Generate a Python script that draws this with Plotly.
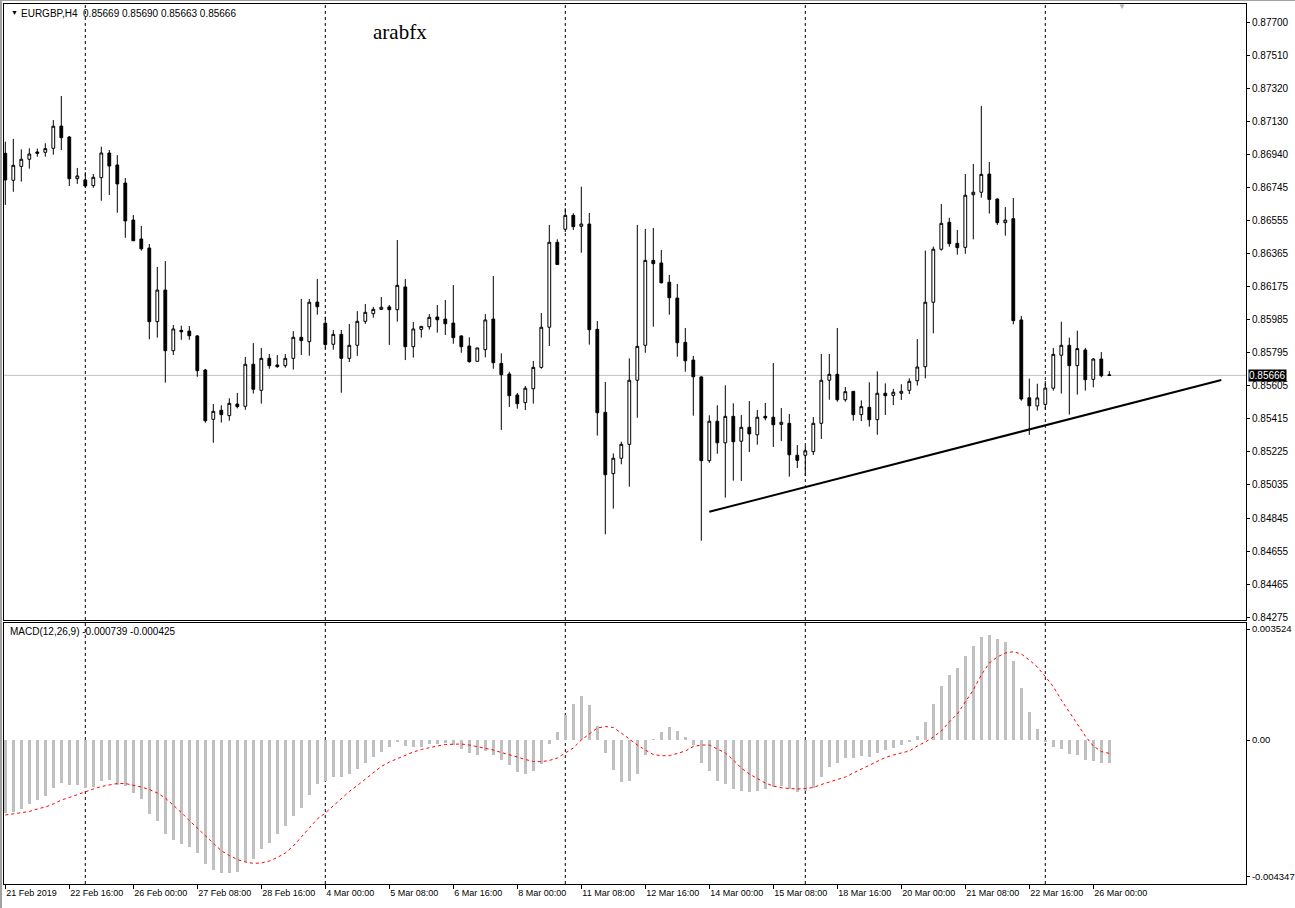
import plotly.graph_objects as go

# ---------------- data (EURGBP H4) ----------------
opens = [
    0.86944, 0.86789, 0.86869, 0.86910, 0.86952, 0.86950, 0.86973, 0.87101, 0.87038, 0.86798,
    0.86791, 0.86758, 0.86804, 0.86946, 0.86877, 0.86773, 0.86560, 0.86451, 0.86399, 0.85975,
    0.86157, 0.85808, 0.85925, 0.85921, 0.85893, 0.85697, 0.85413, 0.85465, 0.85434, 0.85501,
    0.85488, 0.85730, 0.85580, 0.85764, 0.85726, 0.85722, 0.85764, 0.85885, 0.85860, 0.86088,
    0.85966, 0.85845, 0.85902, 0.85764, 0.85839, 0.85977, 0.86021, 0.86046, 0.86060, 0.86044,
    0.86175, 0.85831, 0.85931, 0.85946, 0.86002, 0.85990, 0.85967, 0.85893, 0.85835, 0.85747,
    0.85814, 0.85990, 0.85735, 0.85674, 0.85553, 0.85509, 0.85589, 0.85712, 0.85943, 0.86432,
    0.86507, 0.86587, 0.86524, 0.86537, 0.85931, 0.85453, 0.85100, 0.85189, 0.85269, 0.85638,
    0.85839, 0.86328, 0.86313, 0.86202, 0.86111, 0.85856, 0.85754, 0.85657, 0.85175, 0.85402,
    0.85278, 0.85430, 0.85287, 0.85367, 0.85324, 0.85430, 0.85425, 0.85384, 0.85390, 0.85206,
    0.85206, 0.85227, 0.85390, 0.85638, 0.85672, 0.85526, 0.85574, 0.85440, 0.85482, 0.85411,
    0.85563, 0.85551, 0.85563, 0.85580, 0.85635, 0.85716, 0.86087, 0.86392, 0.86547, 0.86426,
    0.86403, 0.86706, 0.86720, 0.86825, 0.86681, 0.86545, 0.86568, 0.85985, 0.85537, 0.85490,
    0.85499, 0.85592, 0.85782, 0.85839, 0.85722, 0.85812, 0.85643, 0.85760, 0.85669,
]
highs = [
    0.87011, 0.87027, 0.86967, 0.86973, 0.86971, 0.87002, 0.87136, 0.87274, 0.87044, 0.86860,
    0.86835, 0.86825, 0.86982, 0.86963, 0.86934, 0.86802, 0.86589, 0.86526, 0.86422, 0.86290,
    0.86324, 0.85956, 0.85952, 0.85950, 0.85898, 0.85703, 0.85501, 0.85494, 0.85534, 0.85565,
    0.85772, 0.85852, 0.85824, 0.85789, 0.85783, 0.85789, 0.85921, 0.86106, 0.86106, 0.86221,
    0.86004, 0.85927, 0.85927, 0.85962, 0.86036, 0.86077, 0.86060, 0.86117, 0.86071, 0.86445,
    0.86221, 0.85973, 0.85950, 0.86019, 0.86071, 0.86100, 0.86186, 0.85896, 0.85885, 0.85824,
    0.86019, 0.86238, 0.85793, 0.85687, 0.85565, 0.85605, 0.85749, 0.86025, 0.86532, 0.86449,
    0.86628, 0.86599, 0.86752, 0.86601, 0.85979, 0.85628, 0.85217, 0.85284, 0.85764, 0.86532,
    0.86509, 0.86514, 0.86388, 0.86244, 0.86192, 0.85939, 0.85778, 0.85661, 0.85436, 0.85494,
    0.85609, 0.85505, 0.85438, 0.85518, 0.85467, 0.85507, 0.85737, 0.85478, 0.85444, 0.85265,
    0.85260, 0.85426, 0.85789, 0.85789, 0.85939, 0.85599, 0.85576, 0.85522, 0.85626, 0.85689,
    0.85620, 0.85588, 0.85615, 0.85649, 0.85875, 0.86384, 0.86407, 0.86652, 0.86573, 0.86503,
    0.86825, 0.86883, 0.87217, 0.86894, 0.86684, 0.86635, 0.86687, 0.86008, 0.85647, 0.85618,
    0.85634, 0.85824, 0.85975, 0.85883, 0.85923, 0.85824, 0.85766, 0.85800, 0.85690,
]
lows = [
    0.86647, 0.86723, 0.86781, 0.86856, 0.86925, 0.86925, 0.86936, 0.86963, 0.86756, 0.86768,
    0.86750, 0.86746, 0.86671, 0.86704, 0.86602, 0.86458, 0.86439, 0.86384, 0.85874, 0.85883,
    0.85624, 0.85783, 0.85871, 0.85871, 0.85658, 0.85394, 0.85278, 0.85394, 0.85405, 0.85476,
    0.85468, 0.85561, 0.85503, 0.85704, 0.85710, 0.85710, 0.85699, 0.85783, 0.85779, 0.86015,
    0.85820, 0.85814, 0.85566, 0.85743, 0.85778, 0.85962, 0.85998, 0.86045, 0.85841, 0.85975,
    0.85754, 0.85768, 0.85883, 0.85929, 0.85912, 0.85898, 0.85848, 0.85796, 0.85739, 0.85745,
    0.85770, 0.85704, 0.85352, 0.85484, 0.85474, 0.85467, 0.85503, 0.85704, 0.85835, 0.86301,
    0.86491, 0.86503, 0.86372, 0.85843, 0.85319, 0.84751, 0.84899, 0.85154, 0.85025, 0.85422,
    0.85796, 0.85946, 0.86195, 0.86015, 0.85773, 0.85687, 0.85434, 0.84714, 0.85163, 0.85215,
    0.84962, 0.85060, 0.85058, 0.85225, 0.85267, 0.85407, 0.85254, 0.85288, 0.85083, 0.85133,
    0.85087, 0.85208, 0.85300, 0.85526, 0.85514, 0.85514, 0.85405, 0.85403, 0.85371, 0.85324,
    0.85438, 0.85495, 0.85524, 0.85559, 0.85607, 0.85649, 0.85908, 0.86384, 0.86407, 0.86361,
    0.86366, 0.86449, 0.86689, 0.86597, 0.86532, 0.86470, 0.85960, 0.85520, 0.85323, 0.85463,
    0.85467, 0.85578, 0.85561, 0.85440, 0.85555, 0.85578, 0.85597, 0.85655, 0.85663,
]
closes = [
    0.86791, 0.86875, 0.86910, 0.86940, 0.86944, 0.86971, 0.87100, 0.87034, 0.86798, 0.86814,
    0.86756, 0.86806, 0.86946, 0.86871, 0.86768, 0.86555, 0.86441, 0.86395, 0.85975, 0.86157,
    0.85808, 0.85933, 0.85917, 0.85894, 0.85693, 0.85405, 0.85459, 0.85440, 0.85505, 0.85486,
    0.85730, 0.85586, 0.85764, 0.85722, 0.85716, 0.85764, 0.85885, 0.85866, 0.86087, 0.86061,
    0.85843, 0.85902, 0.85764, 0.85839, 0.85977, 0.86029, 0.86046, 0.86058, 0.86044, 0.86184,
    0.85831, 0.85933, 0.85948, 0.86000, 0.85986, 0.85963, 0.85883, 0.85831, 0.85745, 0.85824,
    0.85985, 0.85739, 0.85670, 0.85549, 0.85503, 0.85592, 0.85712, 0.85943, 0.86432, 0.86304,
    0.86587, 0.86522, 0.86537, 0.85929, 0.85451, 0.85094, 0.85189, 0.85269, 0.85638, 0.85833,
    0.86328, 0.86309, 0.86199, 0.86113, 0.85854, 0.85750, 0.85658, 0.85175, 0.85402, 0.85278,
    0.85430, 0.85284, 0.85367, 0.85329, 0.85425, 0.85421, 0.85382, 0.85396, 0.85209, 0.85177,
    0.85232, 0.85390, 0.85638, 0.85672, 0.85526, 0.85572, 0.85440, 0.85486, 0.85411, 0.85563,
    0.85549, 0.85569, 0.85574, 0.85632, 0.85714, 0.86087, 0.86392, 0.86541, 0.86424, 0.86401,
    0.86703, 0.86720, 0.86823, 0.86679, 0.86545, 0.86560, 0.85981, 0.85530, 0.85491, 0.85536,
    0.85593, 0.85787, 0.85839, 0.85722, 0.85820, 0.85641, 0.85760, 0.85664, 0.85666,
]
macd_main = [
    -0.002327, -0.002276, -0.002181, -0.002032, -0.001895, -0.001778, -0.001524, -0.001365, -0.001438, -0.001438,
    -0.001524, -0.001483, -0.001311, -0.001280, -0.001438, -0.001451, -0.001673, -0.001873, -0.002350, -0.002562,
    -0.002975, -0.003175, -0.003302, -0.003388, -0.003588, -0.003937, -0.004128, -0.004232, -0.004213, -0.004191,
    -0.003883, -0.003778, -0.003461, -0.003280, -0.002985, -0.002731, -0.002403, -0.002159, -0.001746, -0.001397,
    -0.001292, -0.001175, -0.001175, -0.001080, -0.000921, -0.000730, -0.000530, -0.000371, -0.000232, -0.000054,
    -0.000181, -0.000222, -0.000213, -0.000137, -0.000117, -0.000105, -0.000168, -0.000276, -0.000413, -0.000467,
    -0.000340, -0.000467, -0.000625, -0.000803, -0.001006, -0.001070, -0.000994, -0.000772, -0.000137, 0.000244,
    0.000794, 0.001143, 0.001397, 0.001111, 0.000445, -0.000403, -0.000943, -0.001324, -0.001292, -0.001070,
    -0.000467, 0.000016, 0.000254, 0.000413, 0.000286, 0.000095, -0.000149, -0.000721, -0.000975, -0.001292,
    -0.001387, -0.001546, -0.001610, -0.001641, -0.001610, -0.001546, -0.001502, -0.001451, -0.001546, -0.001641,
    -0.001610, -0.001514, -0.001165, -0.000848, -0.000721, -0.000562, -0.000562, -0.000498, -0.000530, -0.000403,
    -0.000308, -0.000244, -0.000149, -0.000064, 0.000127, 0.000572, 0.001143, 0.001715, 0.002064, 0.002286,
    0.002667, 0.002985, 0.003270, 0.003334, 0.003207, 0.003112, 0.002508, 0.001651, 0.000889, 0.000349,
    -0.000073, -0.000213, -0.000276, -0.000435, -0.000467, -0.000625, -0.000657, -0.000720, -0.000739,
]
macd_signal = [
    -0.002381, -0.002350, -0.002302, -0.002270, -0.002191, -0.002127, -0.002032, -0.001905, -0.001826, -0.001730,
    -0.001641, -0.001556, -0.001476, -0.001429, -0.001381, -0.001381, -0.001429, -0.001492, -0.001572, -0.001683,
    -0.001842, -0.002064, -0.002302, -0.002556, -0.002794, -0.003032, -0.003286, -0.003515, -0.003667, -0.003794,
    -0.003874, -0.003915, -0.003905, -0.003842, -0.003731, -0.003588, -0.003366, -0.003080, -0.002794, -0.002508,
    -0.002318, -0.002096, -0.001857, -0.001635, -0.001445, -0.001238, -0.001032, -0.000841, -0.000699, -0.000587,
    -0.000476, -0.000381, -0.000302, -0.000238, -0.000191, -0.000143, -0.000127, -0.000127, -0.000159, -0.000206,
    -0.000254, -0.000318, -0.000397, -0.000460, -0.000540, -0.000619, -0.000683, -0.000689, -0.000651, -0.000572,
    -0.000413, -0.000254, 0.000000, 0.000191, 0.000381, 0.000429, 0.000397, 0.000222, 0.000032, -0.000159,
    -0.000318, -0.000460, -0.000498, -0.000498, -0.000429, -0.000349, -0.000206, -0.000159, -0.000159, -0.000286,
    -0.000413, -0.000635, -0.000889, -0.001080, -0.001222, -0.001365, -0.001461, -0.001514, -0.001540, -0.001556,
    -0.001540, -0.001508, -0.001413, -0.001334, -0.001270, -0.001175, -0.001048, -0.000921, -0.000794, -0.000667,
    -0.000556, -0.000476, -0.000413, -0.000349, -0.000191, -0.000064, 0.000095, 0.000286, 0.000572, 0.000826,
    0.001207, 0.001588, 0.002064, 0.002445, 0.002635, 0.002762, 0.002804, 0.002731, 0.002540, 0.002318,
    0.002016, 0.001692, 0.001270, 0.000889, 0.000476, 0.000127, -0.000191, -0.000365, -0.000425,
]
bar_index = list(range(len(closes)))

date_tick_bars = [0, 8, 16, 24, 32, 40, 48, 56, 64, 72, 80, 88, 96, 104, 112, 120, 128, 136]
date_tick_labels = [
    "21 Feb 2019", "22 Feb 16:00", "26 Feb 00:00", "27 Feb 08:00", "28 Feb 16:00",
    "4 Mar 00:00", "5 Mar 08:00", "6 Mar 16:00", "8 Mar 00:00", "11 Mar 08:00",
    "12 Mar 16:00", "14 Mar 00:00", "15 Mar 08:00", "18 Mar 16:00", "20 Mar 00:00",
    "21 Mar 08:00", "22 Mar 16:00", "26 Mar 00:00",
]
week_start_bars = [10, 40, 70, 100, 130]

price_ticks = [0.87700, 0.87510, 0.87320, 0.87130, 0.86940, 0.86745, 0.86555, 0.86365, 0.86175,
               0.85985, 0.85795, 0.85605, 0.85415, 0.85225, 0.85035, 0.84845, 0.84655, 0.84465, 0.84275]
price_tick_labels = ["0.87700", "0.87510", "0.87320", "0.87130", "0.86940", "0.86745", "0.86555",
                     "0.86365", "0.86175", "0.85985", "0.85795", "0.85605", "0.85415", "0.85225",
                     "0.85035", "0.84845", "0.84655", "0.84465", "0.84275"]
macd_ticks = [0.003524, 0.0, -0.004347]
macd_tick_labels = ["0.003524", "0.00", "-0.004347"]

trend_bars = [88, 152]
trend_prices = [0.84881, 0.85639]
last_price = 0.85666
header_text = "EURGBP,H4\u00a0\u00a00.85669 0.85690 0.85663 0.85666"
macd_text = "MACD(12,26,9) -0.000739 -0.000425"

assert len(opens) == len(highs) == len(lows) == len(closes) == len(macd_main) == len(macd_signal)

# ---------------- figure ----------------
FONT = "Liberation Sans, Arial, sans-serif"
x_range = [-0.1625, 155.0875]

fig = go.Figure()
fig.add_trace(go.Candlestick(
    x=bar_index, open=opens, high=highs, low=lows, close=closes,
    increasing=dict(line=dict(color="black", width=1), fillcolor="white"),
    decreasing=dict(line=dict(color="black", width=1), fillcolor="black"),
    whiskerwidth=0, xaxis="x", yaxis="y", showlegend=False, hoverinfo="skip",
))
fig.add_trace(go.Scatter(
    x=trend_bars, y=trend_prices, mode="lines",
    line=dict(color="black", width=2), xaxis="x", yaxis="y",
    showlegend=False, hoverinfo="skip",
))
fig.add_trace(go.Bar(
    x=bar_index, y=macd_main, marker=dict(color="#C0C0C0", line=dict(width=0)),
    width=0.4, xaxis="x2", yaxis="y2", showlegend=False, hoverinfo="skip",
))
fig.add_trace(go.Scatter(
    x=bar_index, y=macd_signal, mode="lines",
    line=dict(color="#FF0000", width=1, dash="3px,3px"),
    xaxis="x2", yaxis="y2", showlegend=False, hoverinfo="skip",
))

shapes = []
for b in week_start_bars:
    for yr in ("y domain", "y2 domain"):
        shapes.append(dict(type="line", xref="x", yref=yr, x0=b, x1=b, y0=0, y1=1,
                           line=dict(color="black", width=1, dash="3px,3px"), layer="below"))
shapes.append(dict(type="line", xref="x domain", yref="y", x0=0, x1=1, y0=last_price, y1=last_price,
                   line=dict(color="#C0C0C0", width=1), layer="below"))
# window frame (left / top grey edge)
shapes.append(dict(type="line", xref="paper", yref="paper", x0=-0.0024, x1=-0.0024, y0=-0.03, y1=1.01,
                   line=dict(color="#A0A0A0", width=2)))
shapes.append(dict(type="line", xref="paper", yref="paper", x0=-0.01, x1=1.05, y0=1.004, y1=1.004,
                   line=dict(color="#A0A0A0", width=1)))

annotations = [
    dict(xref="paper", yref="paper", x=0, y=1, xanchor="left", yanchor="top", xshift=5, yshift=-3,
         text="\u25bc", showarrow=False, font=dict(family=FONT, size=7, color="black")),
    dict(xref="paper", yref="paper", x=0, y=1, xanchor="left", yanchor="top", xshift=15, yshift=-2,
         text=header_text, showarrow=False, font=dict(family=FONT, size=10, color="black")),
    dict(xref="paper", yref="paper", x=0.3188, y=0.9682, xanchor="center", yanchor="middle",
         text="arabfx", showarrow=False, font=dict(family="Liberation Serif, Times New Roman, serif", size=21, color="black")),
    dict(xref="paper", yref="paper", x=0, y=0.2864, xanchor="left", yanchor="middle", xshift=4,
         text=macd_text, showarrow=False, font=dict(family=FONT, size=10, color="black")),
    dict(xref="x domain", yref="y", x=1, y=last_price, xanchor="left", yanchor="middle", xshift=2,
         text=f"{last_price:.5f}", showarrow=False, bgcolor="black", borderpad=0,
         font=dict(family=FONT, size=10, color="white")),
    dict(xref="paper", yref="paper", x=0.9, y=1, xanchor="center", yanchor="top", yshift=4,
         text="\u25bc", showarrow=False, font=dict(family=FONT, size=8, color="#B0B0B0")),
]

axis_common = dict(showgrid=False, zeroline=False, showline=True, linecolor="black",
                   linewidth=1, mirror=True, automargin=False)

fig.update_layout(
    width=1295, height=908,
    margin=dict(l=4, r=49, t=4, b=24, autoexpand=False),
    paper_bgcolor="white", plot_bgcolor="white",
    showlegend=False, boxgap=0.5, bargap=0,
    xaxis=dict(domain=[0, 1], anchor="y", range=x_range, showticklabels=False, ticks="",
               rangeslider=dict(visible=False), **axis_common),
    yaxis=dict(domain=[0.3, 1], anchor="x", side="right", range=[0.8425788, 0.878036],
               tickvals=price_ticks, ticktext=price_tick_labels, ticks="outside", ticklen=3,
               tickcolor="black", tickfont=dict(family=FONT, size=10, color="black"), **axis_common),
    xaxis2=dict(domain=[0, 1], anchor="y2", range=x_range, tickvals=date_tick_bars,
                ticktext=date_tick_labels, ticks="outside", ticklen=4, tickcolor="black",
                ticklabelposition="outside right",
                tickfont=dict(family=FONT, size=9, color="black"), **axis_common),
    yaxis2=dict(domain=[0, 0.29659], anchor="x2", side="right", range=[-0.004572, 0.0037148],
                tickvals=macd_ticks, ticktext=macd_tick_labels, ticks="outside", ticklen=3,
                tickcolor="black", tickfont=dict(family=FONT, size=9.5, color="black"), **axis_common),
    shapes=shapes,
    annotations=annotations,
)

fig.write_html(
    "out.html",
    config={"displayModeBar": False},
    post_script="document.body.style.margin='0';document.body.style.overflow='hidden';",
)
